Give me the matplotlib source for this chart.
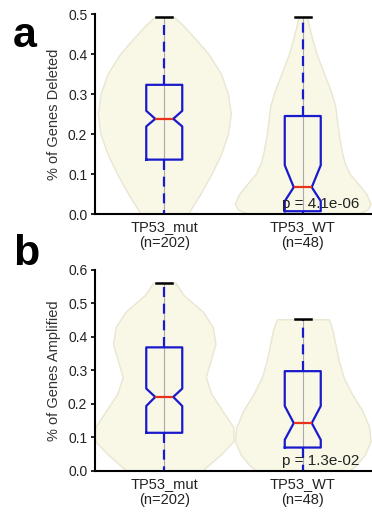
import matplotlib
matplotlib.use("Agg")
import matplotlib.pyplot as plt

plt.rcParams['font.family'] = ['Liberation Sans', 'DejaVu Sans']

groups = ["TP53_mut\n(n=202)", "TP53_WT\n(n=48)"]
positions = [1, 2]

# box summaries: deleted fraction
del_med = [0.238, 0.067]
del_q1 = [0.136, 0.007]
del_q3 = [0.323, 0.245]
del_cilo = [0.219, 0.032]
del_cihi = [0.258, 0.122]
del_lo = [0.0, 0.0]
del_hi = [0.493, 0.493]
del_p = "p = 4.1e-06"

# box summaries: amplified fraction
amp_med = [0.221, 0.143]
amp_q1 = [0.114, 0.070]
amp_q3 = [0.369, 0.298]
amp_cilo = [0.194, 0.093]
amp_cihi = [0.246, 0.194]
amp_lo = [0.0, 0.0]
amp_hi = [0.562, 0.453]
amp_p = "p = 1.3e-02"

# violin outlines (value, half width)
del_mut_y = [0.0, 0.05, 0.1, 0.15, 0.2, 0.25, 0.3, 0.35, 0.4, 0.44, 0.47, 0.493]
del_mut_w = [0.17, 0.26, 0.34, 0.41, 0.46, 0.48, 0.46, 0.41, 0.32, 0.22, 0.14, 0.07]
del_wt_y = [0.0, 0.005, 0.012, 0.025, 0.05, 0.08, 0.1, 0.13, 0.16, 0.2, 0.24, 0.27,
            0.31, 0.35, 0.4, 0.44, 0.47, 0.493]
del_wt_w = [0.36, 0.43, 0.47, 0.49, 0.46, 0.39, 0.34, 0.30, 0.28, 0.26, 0.245, 0.235,
            0.20, 0.155, 0.10, 0.067, 0.045, 0.03]
amp_mut_y = [0.0, 0.05, 0.09, 0.13, 0.18, 0.23, 0.28, 0.33, 0.38, 0.43, 0.475, 0.525, 0.562]
amp_mut_w = [0.27, 0.41, 0.50, 0.50, 0.42, 0.34, 0.30, 0.335, 0.37, 0.35, 0.28, 0.14, 0.08]
amp_wt_y = [0.0, 0.015, 0.05, 0.09, 0.13, 0.18, 0.23, 0.28, 0.33, 0.38, 0.42, 0.44, 0.453]
amp_wt_w = [0.33, 0.38, 0.45, 0.49, 0.48, 0.43, 0.355, 0.295, 0.26, 0.235, 0.215, 0.20, 0.185]

BLUE = '#1a1acd'


def panel(ax, med, q1, q3, cilo, cihi, lo, hi, outlines, ylabel, ptext, ymax):
    for pos, (vy, vw) in zip(positions, outlines):
        ax.fill_betweenx(vy, [pos - w for w in vw], [pos + w for w in vw],
                         facecolor='#f9f7e5', edgecolor='#e9e6d2', lw=1, zorder=1)
    ax.vlines(positions, 0, hi, color='#aaaaaa', lw=0.8, zorder=2)

    stats = []
    for i in range(len(positions)):
        stats.append(dict(med=med[i], q1=q1[i], q3=q3[i], cilo=cilo[i], cihi=cihi[i],
                          whislo=lo[i], whishi=hi[i], fliers=[]))
    ax.bxp(stats, positions=positions, widths=0.26, capwidths=0.115, shownotches=True,
           boxprops=dict(color=BLUE, lw=1.6),
           medianprops=dict(color='#e8321e', lw=1.6),
           whiskerprops=dict(color=BLUE, lw=1.6, linestyle=(0, (4.5, 3))),
           capprops=dict(color='black', lw=1.8),
           manage_ticks=False, zorder=3)

    ax.set_xlim(0.5, 2.5)
    ax.set_ylim(0, ymax)
    ticks = [i / 10 for i in range(int(round(ymax * 10)) + 1)]
    ax.set_yticks(ticks)
    ax.set_yticklabels(['%.1f' % t for t in ticks])
    ax.set_xticks(positions)
    ax.set_xticklabels(groups, fontsize=10.5, color='#222222')
    ax.tick_params(axis='x', length=0, pad=4)
    ax.tick_params(axis='y', direction='out', length=3, width=1.2, labelsize=10,
                   labelcolor='#222222', pad=2.5)
    for s in ['top', 'right']:
        ax.spines[s].set_visible(False)
    for s in ['left', 'bottom']:
        ax.spines[s].set_linewidth(1.5)
    ax.set_ylabel(ylabel, fontsize=10.5, color='#333333', labelpad=5)
    ax.text(0.676, 0.028, ptext, transform=ax.transAxes, fontsize=11,
            color='#222222', va='baseline', ha='left', zorder=4)


fig = plt.figure(figsize=(3.72, 5.12), dpi=100)
ax_a = fig.add_axes([0.2554, 0.582, 0.7446, 0.3906])
ax_b = fig.add_axes([0.2554, 0.0801, 0.7446, 0.3926])

panel(ax_a, del_med, del_q1, del_q3, del_cilo, del_cihi, del_lo, del_hi,
      [(del_mut_y, del_mut_w), (del_wt_y, del_wt_w)],
      '% of Genes Deleted', del_p, 0.5)
panel(ax_b, amp_med, amp_q1, amp_q3, amp_cilo, amp_cihi, amp_lo, amp_hi,
      [(amp_mut_y, amp_mut_w), (amp_wt_y, amp_wt_w)],
      '% of Genes Amplified', amp_p, 0.6)

fig.text(0.035, 1 - 47 / 512, 'a', fontsize=31, fontweight='bold', va='baseline')
fig.text(0.035, 1 - 265 / 512, 'b', fontsize=31, fontweight='bold', va='baseline')

fig.savefig('out.png', dpi=100)
